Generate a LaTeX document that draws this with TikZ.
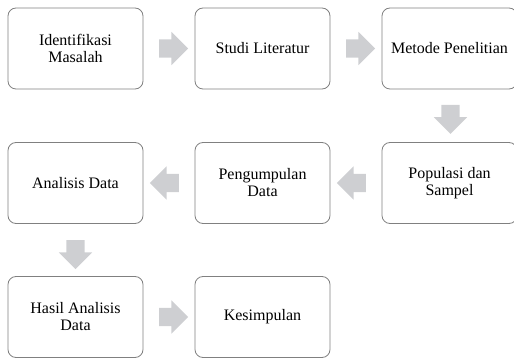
\documentclass[tikz,border=0pt]{standalone}
\usepackage{fontspec}
\setmainfont{Liberation Serif}
\usepackage{tikz}
\usetikzlibrary{shapes.arrows, calc}
\definecolor{boxline}{RGB}{128,128,128}
\definecolor{arrowgray}{RGB}{206,207,210}

\begin{document}
\begin{tikzpicture}[x=1pt, y=-1pt,
		stepbox/.style={draw=boxline, line width=0.8pt, rounded corners=8pt, fill=white,
			minimum width=135pt, minimum height=81pt, align=center,
			font=\fontsize{16}{17}\selectfont},
		blockarrow/.style={single arrow, fill=arrowgray, draw=none, inner sep=9pt,
			minimum height=29pt, single arrow head extend=7.5pt}]
		\useasboundingbox (0,0) rectangle (514,358);
		% row 1
		\node[stepbox] (identifikasi) at (75.5,48.5) {Identifikasi\\Masalah};
		\node[stepbox] (studi) at (262.5,48.5) {Studi Literatur};
		\node[stepbox] (metode) at (449.5,48.5) {Metode Penelitian};
		% row 2
		\node[stepbox] (populasi) at (449.5,183) {Populasi dan\\Sampel};
		\node[stepbox] (pengumpulan) at (262.5,183) {Pengumpulan\\Data};
		\node[stepbox] (analisis) at (75.5,183) {Analisis Data};
		% row 3
		\node[stepbox] (hasil) at (75.5,317) {Hasil Analisis\\Data};
		\node[stepbox] (kesimpulan) at (262.5,317) {Kesimpulan};
		% arrows
		\node[blockarrow] (a1) at ($(identifikasi.east)!0.5!(studi.west)$) {};
		\node[blockarrow] (a2) at ($(studi.east)!0.5!(metode.west)$) {};
		\node[blockarrow, rotate=-90] (a3) at ($(metode.south)!0.5!(populasi.north)+(1,-1)$) {};
		\node[blockarrow, rotate=180] (a4) at ($(populasi.west)!0.5!(pengumpulan.east)$) {};
		\node[blockarrow, rotate=180] (a5) at ($(pengumpulan.west)!0.5!(analisis.east)$) {};
		\node[blockarrow, rotate=-90] (a6) at ($(analisis.south)!0.5!(hasil.north)$) {};
		\node[blockarrow] (a7) at ($(hasil.east)!0.5!(kesimpulan.west)$) {};
\end{tikzpicture}
\end{document}
